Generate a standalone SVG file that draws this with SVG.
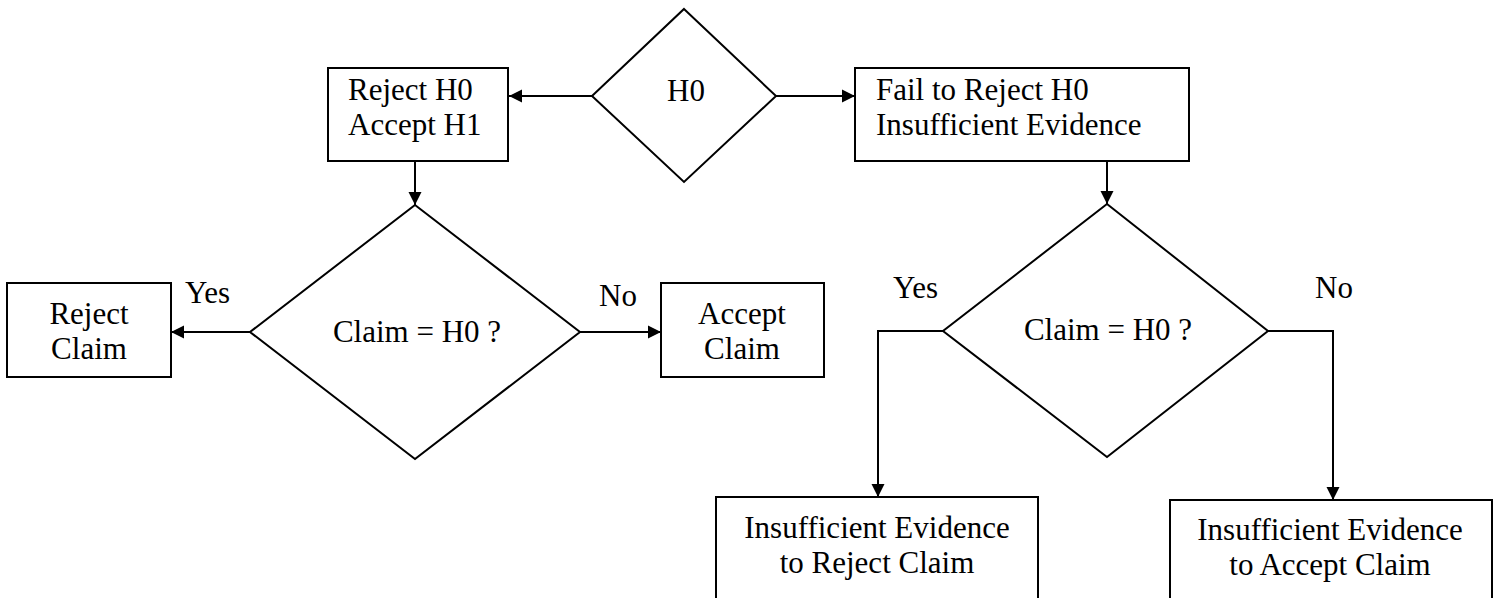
<svg xmlns="http://www.w3.org/2000/svg" width="1500" height="598" viewBox="0 0 1500 598">
<style>
.s{fill:#fff;stroke:#000;stroke-width:2}
.c{fill:none;stroke:#000;stroke-width:2}
text{font-family:"Liberation Serif","Times New Roman",serif;font-size:31px;fill:#000}
.m{text-anchor:middle}
</style>
<defs>
<marker id="a" markerUnits="userSpaceOnUse" markerWidth="14" markerHeight="14" refX="13" refY="7" orient="auto">
<path d="M0,0.5 L13,7 L0,13.5 Z" fill="#000"/>
</marker>
</defs>
<rect width="1500" height="598" fill="#fff"/>
<g id="connectors">
<line class="c" x1="592" y1="96" x2="509" y2="96" marker-end="url(#a)"/>
<line class="c" x1="776" y1="96" x2="855" y2="96" marker-end="url(#a)"/>
<line class="c" x1="415" y1="161" x2="415" y2="205" marker-end="url(#a)"/>
<line class="c" x1="1107" y1="161" x2="1107" y2="204" marker-end="url(#a)"/>
<line class="c" x1="250" y1="332" x2="171" y2="332" marker-end="url(#a)"/>
<line class="c" x1="580" y1="332" x2="661" y2="332" marker-end="url(#a)"/>
<polyline class="c" points="943,331 878,331 878,497" marker-end="url(#a)"/>
<polyline class="c" points="1268,331 1333,331 1333,500" marker-end="url(#a)"/>
<text x="185" y="303">Yes</text>
<text x="599" y="306">No</text>
<text x="893" y="298">Yes</text>
<text x="1315" y="298">No</text>
</g>
<g id="h0">
<polygon class="s" points="684,9 776,96 684,182 592,96"/>
<text class="m" x="686" y="101">H0</text>
</g>
<g id="reject-h0">
<rect class="s" x="328" y="68" width="180" height="93"/>
<text x="348" y="100">Reject H0</text>
<text x="348" y="135">Accept H1</text>
</g>
<g id="fail-reject">
<rect class="s" x="855" y="68" width="334" height="93"/>
<text x="876" y="100">Fail to Reject H0</text>
<text x="876" y="135">Insufficient Evidence</text>
</g>
<g id="claim-left">
<polygon class="s" points="415,205 580,332 415,459 250,332"/>
<text class="m" x="417" y="342">Claim = H0 ?</text>
</g>
<g id="reject-claim">
<rect class="s" x="7" y="283" width="164" height="94"/>
<text class="m" x="89" y="324">Reject</text>
<text class="m" x="89" y="359">Claim</text>
</g>
<g id="accept-claim">
<rect class="s" x="661" y="283" width="163" height="94"/>
<text class="m" x="742" y="324">Accept</text>
<text class="m" x="742" y="359">Claim</text>
</g>
<g id="claim-right">
<polygon class="s" points="1107,204 1268,331 1107,457 943,331"/>
<text class="m" x="1108" y="340">Claim = H0 ?</text>
</g>
<g id="insuff-reject">
<rect class="s" x="716" y="497" width="322" height="120"/>
<text class="m" x="877" y="538">Insufficient Evidence</text>
<text class="m" x="877" y="573">to Reject Claim</text>
</g>
<g id="insuff-accept">
<rect class="s" x="1170" y="500" width="322" height="120"/>
<text class="m" x="1330" y="540">Insufficient Evidence</text>
<text class="m" x="1330" y="575">to Accept Claim</text>
</g>
</svg>
